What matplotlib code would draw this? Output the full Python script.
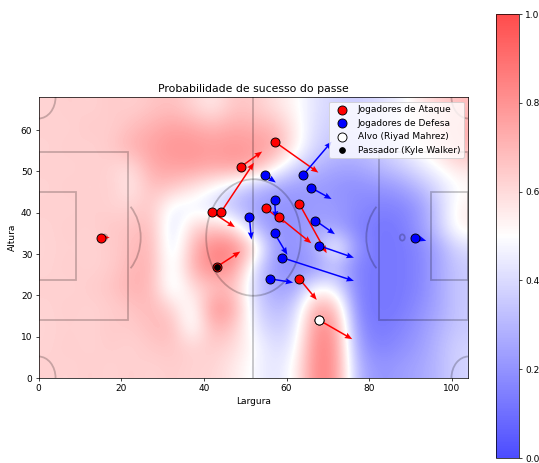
import numpy as np
import matplotlib
matplotlib.use("Agg")
import matplotlib.pyplot as plt
from matplotlib.patches import Rectangle, Ellipse, Arc

# ---------------- data ----------------
# probability grid (rows from top y≈65.6 to bottom y≈2.4, cols x≈2.5 .. 101.5)
prob_grid = [
    [0.62, 0.64, 0.62, 0.65, 0.63, 0.66, 0.68, 0.62, 0.55, 0.66, 0.65, 0.58, 0.52, 0.42, 0.38, 0.36, 0.40, 0.45, 0.55, 0.62, 0.68],
    [0.63, 0.62, 0.65, 0.63, 0.68, 0.72, 0.76, 0.74, 0.70, 0.74, 0.72, 0.70, 0.55, 0.40, 0.36, 0.35, 0.38, 0.45, 0.55, 0.65, 0.72],
    [0.62, 0.64, 0.62, 0.65, 0.72, 0.76, 0.80, 0.80, 0.78, 0.80, 0.78, 0.76, 0.55, 0.38, 0.33, 0.32, 0.35, 0.42, 0.50, 0.60, 0.70],
    [0.63, 0.62, 0.64, 0.62, 0.58, 0.74, 0.76, 0.77, 0.74, 0.77, 0.74, 0.55, 0.38, 0.30, 0.25, 0.25, 0.30, 0.35, 0.42, 0.50, 0.58],
    [0.62, 0.64, 0.62, 0.64, 0.55, 0.68, 0.66, 0.58, 0.50, 0.40, 0.30, 0.25, 0.22, 0.22, 0.20, 0.18, 0.20, 0.22, 0.30, 0.40, 0.50],
    [0.63, 0.62, 0.64, 0.62, 0.62, 0.66, 0.45, 0.45, 0.40, 0.30, 0.24, 0.20, 0.20, 0.22, 0.22, 0.18, 0.15, 0.15, 0.20, 0.35, 0.55],
    [0.62, 0.64, 0.62, 0.66, 0.66, 0.70, 0.38, 0.62, 0.66, 0.60, 0.30, 0.20, 0.20, 0.24, 0.24, 0.15, 0.12, 0.12, 0.20, 0.35, 0.55],
    [0.62, 0.63, 0.62, 0.64, 0.68, 0.72, 0.38, 0.70, 0.86, 0.86, 0.64, 0.22, 0.20, 0.26, 0.55, 0.20, 0.12, 0.12, 0.15, 0.25, 0.40],
    [0.62, 0.64, 0.62, 0.64, 0.70, 0.72, 0.42, 0.72, 0.84, 0.80, 0.42, 0.20, 0.18, 0.20, 0.30, 0.15, 0.12, 0.12, 0.15, 0.25, 0.35],
    [0.63, 0.62, 0.64, 0.66, 0.72, 0.70, 0.42, 0.60, 0.66, 0.68, 0.38, 0.24, 0.24, 0.50, 0.45, 0.15, 0.12, 0.12, 0.15, 0.25, 0.35],
    [0.62, 0.64, 0.62, 0.64, 0.66, 0.70, 0.62, 0.45, 0.82, 0.76, 0.40, 0.30, 0.35, 0.75, 0.70, 0.15, 0.12, 0.12, 0.18, 0.25, 0.35],
    [0.62, 0.63, 0.62, 0.65, 0.64, 0.68, 0.70, 0.45, 0.72, 0.66, 0.45, 0.35, 0.40, 0.82, 0.80, 0.20, 0.12, 0.15, 0.20, 0.28, 0.35],
    [0.62, 0.64, 0.62, 0.64, 0.62, 0.65, 0.66, 0.62, 0.64, 0.60, 0.50, 0.40, 0.45, 0.85, 0.82, 0.25, 0.15, 0.18, 0.22, 0.30, 0.38],
    [0.63, 0.62, 0.64, 0.62, 0.64, 0.62, 0.64, 0.62, 0.62, 0.56, 0.48, 0.42, 0.50, 0.85, 0.82, 0.30, 0.20, 0.22, 0.25, 0.30, 0.38],
]

# attackers (red)
att_x = [15.0, 48.9, 57.1, 42.0, 44.1, 55.0, 58.1, 63.1, 63.1]
att_y = [34.0, 51.1, 57.2, 40.1, 40.1, 41.1, 39.0, 42.1, 24.0]
att_dx = [2.2, 5.2, 10.6, 5.5, 8.0, 4.5, 7.9, 6.6, 4.2]
att_dy = [0.0, 3.7, -7.5, -3.6, 12.0, -3.6, -6.4, -11.9, -5.1]

# defenders (blue)
def_x = [54.9, 64.0, 66.0, 57.1, 51.0, 67.0, 57.1, 67.9, 59.0, 56.0, 91.1]
def_y = [49.1, 49.1, 46.0, 43.1, 39.0, 38.1, 35.0, 32.0, 29.1, 24.0, 34.0]
def_dx = [2.5, 6.9, 4.9, 0.3, 0.5, 4.7, 3.1, 8.4, 17.3, 5.6, 2.7]
def_dy = [-1.8, 8.1, -2.7, -4.5, -5.5, -3.3, -5.2, -2.9, -5.6, -0.9, -0.8]

# passer and target
passer_x, passer_y, passer_dx, passer_dy = [43.1], [26.9], [5.7], [3.7]
target_x, target_y, target_dx, target_dy = [67.9], [14.0], [8.0], [-4.6]

field_length, field_width = 104, 68

# ---------------- figure ----------------
DPI = 65
fig = plt.figure(figsize=(539 / DPI, 463 / DPI), dpi=DPI)
ax = fig.add_axes([38 / 539, (463 - 378) / 463, 431 / 539, 281 / 463])
cax = fig.add_axes([496 / 539, 5 / 463, 23 / 539, 444 / 463])

im = ax.imshow(np.array(prob_grid), cmap="bwr", vmin=0, vmax=1, alpha=0.7,
               extent=[0, field_length, 0, field_width], origin="upper",
               interpolation="bicubic", aspect="equal", zorder=0)

# pitch lines
lc = dict(edgecolor="black", facecolor="none", lw=2, alpha=0.22, zorder=1)
ax.plot([52, 52], [0, 68], color="black", lw=2, alpha=0.22, zorder=1)
ax.add_patch(Ellipse((52, 34), 22.9, 28.2, **lc))
ax.add_patch(Rectangle((0, 14.0), 21.7, 40.6, **lc))
ax.add_patch(Rectangle((104 - 21.7, 14.0), 21.7, 40.6, **lc))
ax.add_patch(Rectangle((0, 23.7), 9.1, 21.4, **lc))
ax.add_patch(Rectangle((104 - 9.1, 23.7), 9.1, 21.4, **lc))
ax.add_patch(Arc((16, 34), 17.4, 21.4, theta1=-50, theta2=50, **lc))
ax.add_patch(Arc((88, 34), 17.4, 21.4, theta1=130, theta2=230, **lc))
ax.add_patch(Ellipse((16, 34), 1.2, 1.5, **lc))
ax.add_patch(Ellipse((88, 34), 1.2, 1.5, **lc))
for cx, cy, t1, t2 in [(0, 0, 0, 90), (0, 68, 270, 360), (104, 0, 90, 180), (104, 68, 180, 270)]:
    ax.add_patch(Arc((cx, cy), 8.2, 10.4, theta1=t1, theta2=t2, **lc))

# arrows
qk = dict(angles="xy", scale_units="xy", scale=1, width=0.0035,
          headwidth=4, headlength=5, headaxislength=4.5, zorder=2)
ax.quiver(att_x, att_y, att_dx, att_dy, color="red", **qk)
ax.quiver(def_x, def_y, def_dx, def_dy, color="blue", **qk)
ax.quiver(passer_x, passer_y, passer_dx, passer_dy, color="red", **qk)
ax.quiver(target_x, target_y, target_dx, target_dy, color="red", **qk)

# players
ax.scatter(att_x + passer_x + target_x, att_y + passer_y + target_y, s=100,
           c="red", edgecolors="black", linewidths=1, zorder=3,
           label="Jogadores de Ataque")
ax.scatter(def_x, def_y, s=100, c="blue", edgecolors="black", linewidths=1,
           zorder=3, label="Jogadores de Defesa")
ax.scatter(target_x, target_y, s=100, c="white", edgecolors="black",
           linewidths=1, zorder=4, label="Alvo (Riyad Mahrez)")
ax.scatter(passer_x, passer_y, s=40, c="black", zorder=4,
           label="Passador (Kyle Walker)")

ax.set_xlim(0, field_length)
ax.set_ylim(0, field_width)
ax.set_title("Probabilidade de sucesso do passe")
ax.set_xlabel("Largura")
ax.set_ylabel("Altura")
ax.legend(loc="upper right")

fig.colorbar(im, cax=cax)

fig.savefig("out.png", dpi=DPI)
